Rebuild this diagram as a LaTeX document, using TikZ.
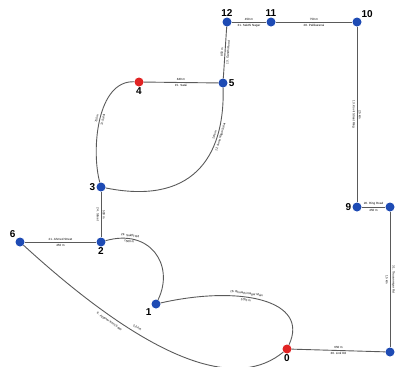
\documentclass[tikz,border=0pt]{standalone}
\usepackage{fontspec}
\setmainfont{Liberation Sans}
\definecolor{nodeblue}{RGB}{30,75,180}
\definecolor{nodered}{RGB}{225,35,35}
\definecolor{roadgray}{RGB}{90,90,90}
\tikzset{
  bdot/.style={circle,fill=nodeblue,minimum size=9pt,inner sep=0pt},
  rdot/.style={circle,fill=nodered,minimum size=9pt,inner sep=0pt},
  num/.style={font=\bfseries\fontsize{10}{10}\selectfont,inner sep=1pt},
  road/.style={draw=roadgray,line width=0.9pt},
  elab/.style={font=\fontsize{3}{3.5}\selectfont,sloped,inner sep=1.5pt}
}
\begin{document}
\begin{tikzpicture}[x=1pt,y=-1pt]
\useasboundingbox (0,0) rectangle (397,367);
% nodes
\node[bdot,label={[num]above:12}] (n12) at (227,22) {};
\node[bdot,label={[num]above:11}] (n11) at (271,22) {};
\node[bdot,label={[num]above right:10}] (n10) at (357,22) {};
\node[bdot,label={[num]right:5}] (n5) at (223,83) {};
\node[rdot,label={[num]below:4}] (n4) at (139,82) {};
\node[bdot,label={[num]left:3}] (n3) at (101,187) {};
\node[bdot,label={[num]below:2}] (n2) at (101,242) {};
\node[bdot,label={[num]above left:6}] (n6) at (20,242) {};
\node[bdot,label={[num]below left:1}] (n1) at (156,304) {};
\node[rdot,label={[num]below:0}] (n0) at (287,349) {};
\node[bdot,label={[num]left:9}] (n9) at (357,207) {};
\node[bdot] (n8) at (390,207) {};
\node[bdot] (n7) at (390,352) {};
% roads
\draw[road] (n12) -- node[elab,above]{450 m} node[elab,below]{31. Sakthi Nagar} (n11);
\draw[road] (n11) -- node[elab,above]{750 m} node[elab,below]{28. Pallikaranai} (n10);
\draw[road] (n10) -- node[elab,above]{2.5 km} node[elab,below]{13. Kovil Street Ring} (n9);
\draw[road] (n9) -- node[elab,above]{28. Ring Road} node[elab,below]{450 m} (n8);
\draw[road] (n8) -- node[elab,above]{31. Tiruvanmiyur Rd} node[elab,below]{1.5 km} (n7);
\draw[road] (n0) -- node[elab,above]{650 m} node[elab,below]{30. Link Rd} (n7);
\draw[road] (n5) -- node[elab,above]{850 m} node[elab,below]{13. Gandhi Road} (n12);
\draw[road] (n4) -- node[elab,above]{840 m} node[elab,below]{15. Salai} (n5);
\draw[road] (n3) -- node[elab,above]{500 m} node[elab,below]{24. Street} (n2);
\draw[road] (n6) -- node[elab,above]{21. Ahmed Street} node[elab,below]{450 m} (n2);
\draw[road] (n4) .. controls (97,80) and (91,150) .. node[elab,pos=0.5,above]{700 m} node[elab,pos=0.5,below]{11. Salai} (n3);
\draw[road] (n5) .. controls (225,160) and (190,205) .. node[elab,pos=0.25,above]{1.8 km} node[elab,pos=0.25,below]{12. Anna Nagar Salai} (n3);
\draw[road] (n2) .. controls (150,228) and (175,265) .. node[elab,pos=0.2,above]{29. Sakthi Rd} node[elab,pos=0.2,below]{1500 m} (n1);
\draw[road] (n1) .. controls (240,285) and (310,300) .. node[elab,pos=0.4,above]{16. Bharathi Nagar Main} node[elab,pos=0.4,below]{1200 m} (n0);
\draw[road] (n6) .. controls (160,370) and (240,388) .. node[elab,pos=0.31,above=2pt]{5.6 km} node[elab,pos=0.24,below=2pt]{8. Ayyanar Kovil Salai} (n0);
\end{tikzpicture}
\end{document}
